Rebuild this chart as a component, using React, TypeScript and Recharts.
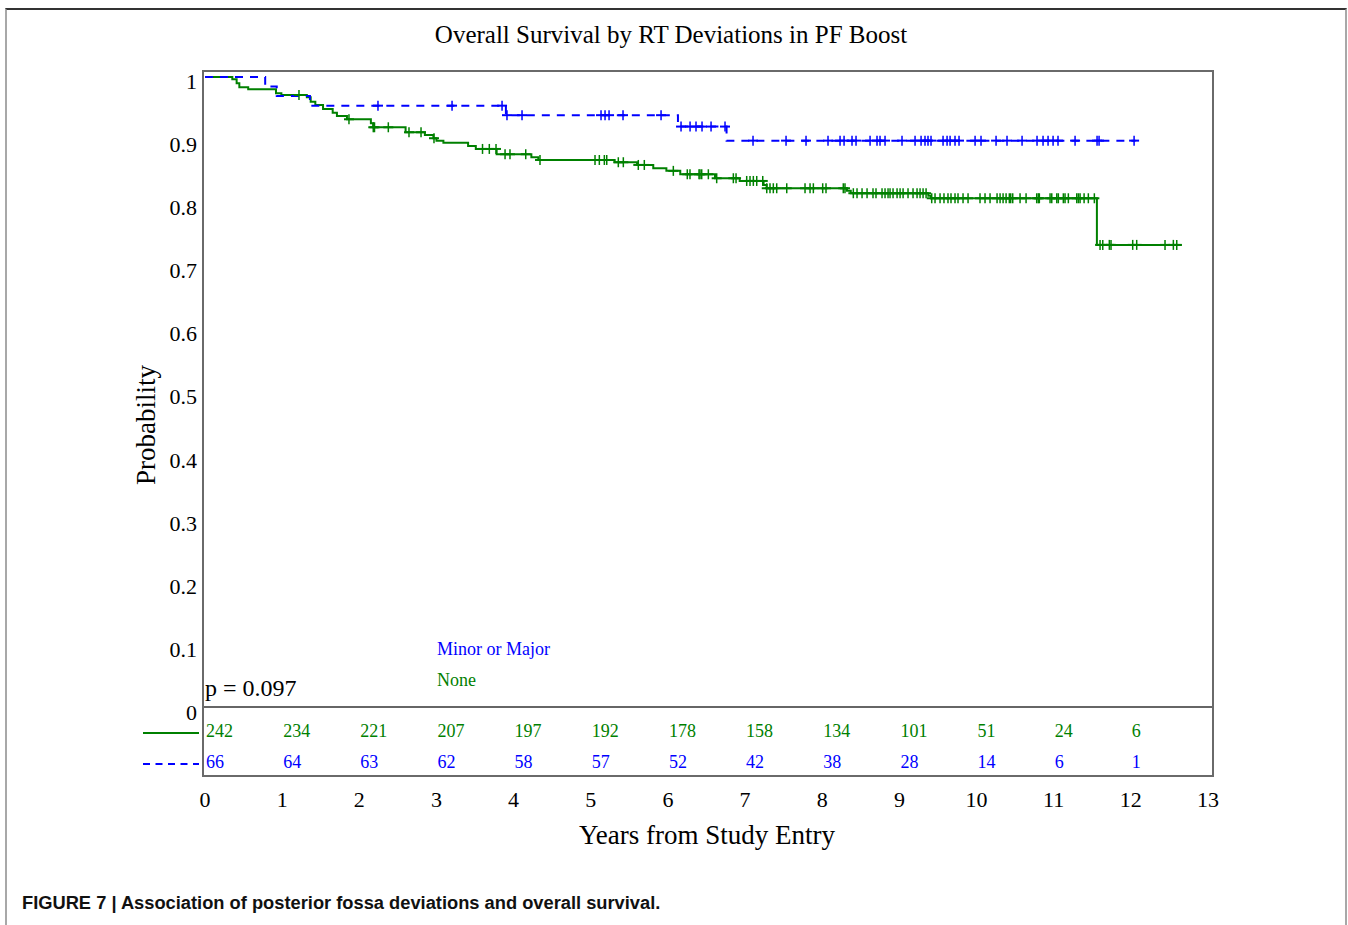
import React from "react";
import { ComposedChart, Line, Scatter, XAxis, YAxis, ReferenceLine } from "recharts";

const SERIF = "'Liberation Serif', 'Times New Roman', serif";
const GREEN = "#008000";
const BLUE = "#0000ff";

const xTicks = [0, 1, 2, 3, 4, 5, 6, 7, 8, 9, 10, 11, 12, 13];
const yTicks = [0, 0.1, 0.2, 0.3, 0.4, 0.5, 0.6, 0.7, 0.8, 0.9, 1];
const yTickLabels = ["0", "0.1", "0.2", "0.3", "0.4", "0.5", "0.6", "0.7", "0.8", "0.9", "1"];

const riskYears = [0, 1, 2, 3, 4, 5, 6, 7, 8, 9, 10, 11, 12];
const riskNone = [242, 234, 221, 207, 197, 192, 178, 158, 134, 101, 51, 24, 6];
const riskMinorMajor = [66, 64, 63, 62, 58, 57, 52, 42, 38, 28, 14, 6, 1];

// Kaplan-Meier step points, group "None"
const noneTimes = [0, 0.354, 0.41, 0.445, 0.56, 0.92, 0.99, 1.32, 1.37, 1.43, 1.53, 1.655, 1.71, 1.84, 2.15, 2.18, 2.6, 2.85, 2.96, 3.0, 3.09, 3.41, 3.51, 3.78, 4.23, 4.32, 5.31, 5.6, 5.81, 5.98, 6.16, 6.61, 6.93, 7.24, 7.28, 8.32, 8.37, 9.375, 9.41, 11.56, 12.66];
const noneSurv = [1, 0.9963, 0.99, 0.9837, 0.9805, 0.9741, 0.9714, 0.9678, 0.9608, 0.9556, 0.9493, 0.9434, 0.9381, 0.9329, 0.9266, 0.9202, 0.9123, 0.908, 0.9028, 0.8989, 0.8958, 0.8905, 0.8858, 0.8774, 0.8726, 0.8683, 0.8647, 0.8604, 0.8552, 0.851, 0.8456, 0.8393, 0.835, 0.8287, 0.8234, 0.8195, 0.8155, 0.8117, 0.8075, 0.7335, 0.7335];

// Kaplan-Meier step points, group "Minor or Major"
const minorMajorTimes = [0, 0.78, 0.93, 1.36, 3.9, 6.13, 6.76, 12.06];
const minorMajorSurv = [1, 0.9848, 0.9697, 0.9545, 0.9394, 0.9213, 0.899, 0.899];

// censoring times
const noneCensor = [1.218, 1.866, 2.181, 2.197, 2.376, 2.644, 2.8, 2.968, 3.597, 3.685, 3.772, 3.889, 3.953, 4.157, 4.342, 5.055, 5.111, 5.176, 5.207, 5.357, 5.422, 5.616, 5.694, 6.07, 6.251, 6.286, 6.403, 6.416, 6.438, 6.524, 6.632, 6.848, 6.883, 7.021, 7.064, 7.107, 7.151, 7.229, 7.281, 7.323, 7.366, 7.41, 7.54, 7.777, 7.842, 7.885, 8.006, 8.049, 8.273, 8.295, 8.403, 8.451, 8.516, 8.581, 8.658, 8.697, 8.775, 8.814, 8.853, 8.879, 8.918, 8.97, 9.009, 9.048, 9.112, 9.177, 9.229, 9.268, 9.307, 9.346, 9.419, 9.462, 9.527, 9.578, 9.63, 9.669, 9.721, 9.76, 9.825, 9.89, 10.045, 10.11, 10.175, 10.266, 10.305, 10.344, 10.383, 10.425, 10.443, 10.469, 10.564, 10.642, 10.78, 10.801, 10.814, 10.953, 10.975, 11.04, 11.06, 11.125, 11.147, 11.19, 11.299, 11.32, 11.342, 11.394, 11.449, 11.527, 11.601, 11.636, 11.721, 11.743, 12.024, 12.076, 12.443, 12.551, 12.595];
const minorMajorCensor = [2.242, 3.202, 3.85, 3.914, 4.109, 5.133, 5.185, 5.237, 5.418, 5.911, 6.17, 6.287, 6.364, 6.442, 6.559, 6.74, 7.103, 7.531, 7.79, 8.075, 8.231, 8.283, 8.386, 8.438, 8.62, 8.71, 8.749, 8.814, 9.034, 9.203, 9.281, 9.332, 9.371, 9.41, 9.566, 9.618, 9.657, 9.721, 9.773, 9.981, 10.058, 10.253, 10.395, 10.59, 10.784, 10.862, 10.927, 10.992, 11.056, 11.277, 11.562, 11.588, 12.042];

// vertical placement of the two at-risk rows (in axis units below 0)
const RISK_ROW_NONE = -0.047;
const RISK_ROW_MM = -0.0963;

const toCurve = (ts: number[], ss: number[]) => ts.map((t, i) => ({ t, s: ss[i] }));
const levelAt = (ts: number[], ss: number[], t: number) => {
  let v = ss[0];
  for (let i = 0; i < ts.length; i++) if (ts[i] <= t) v = ss[i];
  return v;
};
const toCensor = (cs: number[], ts: number[], ss: number[]) => cs.map((t) => ({ t, s: levelAt(ts, ss, t) }));

const noneCurve = toCurve(noneTimes, noneSurv);
const mmCurve = toCurve(minorMajorTimes, minorMajorSurv);
const noneCensorPts = toCensor(noneCensor, noneTimes, noneSurv);
const mmCensorPts = toCensor(minorMajorCensor, minorMajorTimes, minorMajorSurv);
const riskNonePts = riskYears.map((t, i) => ({ t, s: RISK_ROW_NONE, n: riskNone[i] }));
const riskMMPts = riskYears.map((t, i) => ({ t, s: RISK_ROW_MM, n: riskMinorMajor[i] }));

const censorShape = (color: string) => (props: any) => {
  const { cx, cy } = props;
  return (
    <g>
      <line x1={cx} x2={cx} y1={cy - 5} y2={cy + 5} stroke={color} strokeWidth={1.5} />
      <line x1={cx - 5} x2={cx + 5} y1={cy} y2={cy} stroke={color} strokeWidth={2} />
    </g>
  );
};
const riskShape = (color: string) => (props: any) => {
  const { cx, cy, payload } = props;
  return (
    <text x={cx + 1} y={cy} fill={color} fontSize={18} fontFamily={SERIF} textAnchor="start">
      {payload.n}
    </text>
  );
};

const YTick = (props: any) => {
  const { x, y, payload } = props;
  const idx = yTicks.findIndex((v) => Math.abs(v - payload.value) < 1e-9);
  return (
    <text x={x} y={y} dy={12.5} textAnchor="end" fontSize={22} fontFamily={SERIF} fill="#000">
      {idx >= 0 ? yTickLabels[idx] : String(payload.value)}
    </text>
  );
};
const XTick = (props: any) => {
  const { x, y, payload } = props;
  return (
    <text x={x} y={y} dy={23} textAnchor="middle" fontSize={22} fontFamily={SERIF} fill="#000">
      {String(payload.value)}
    </text>
  );
};

export default function App() {
  return (
    <div style={{ position: "absolute", left: 0, top: 0, width: 1348, height: 925, background: "#fff", overflow: "hidden" }}>
      <div
        style={{
          position: "absolute",
          left: 5,
          top: 8,
          width: 1342,
          height: 1000,
          boxSizing: "border-box",
          borderLeft: "2px solid #a8a8a8",
          borderRight: "2px solid #a8a8a8",
          borderTop: "2px solid #333",
        }}
      />
      <div style={{ position: "absolute", left: 0, top: 0 }}>
        <ComposedChart width={1348} height={925} margin={{ top: 71, right: 135, bottom: 109, left: 143 }}>
          <XAxis
            dataKey="t"
            type="number"
            domain={[0, 13]}
            ticks={xTicks}
            padding={{ left: 2, right: 5 }}
            axisLine={false}
            tickLine={false}
            tickSize={0}
            tickMargin={8}
            height={40}
            tick={<XTick />}
            allowDataOverflow
          />
          <YAxis
            dataKey="s"
            type="number"
            domain={[-0.10952, 1.00952]}
            ticks={yTicks}
            axisLine={false}
            tickLine={false}
            tickSize={0}
            tickMargin={6}
            width={60}
            tick={<YTick />}
            allowDataOverflow
          />
          <ReferenceLine y={0} stroke="#333" strokeWidth={1.5} />
          <Line data={noneCurve} dataKey="s" type="stepAfter" stroke={GREEN} strokeWidth={2} dot={false} activeDot={false} isAnimationActive={false} />
          <Line data={mmCurve} dataKey="s" type="stepAfter" stroke={BLUE} strokeWidth={2} strokeDasharray="8 7" dot={false} activeDot={false} isAnimationActive={false} />
          <Scatter data={noneCensorPts} dataKey="s" shape={censorShape(GREEN)} isAnimationActive={false} />
          <Scatter data={mmCensorPts} dataKey="s" shape={censorShape(BLUE)} isAnimationActive={false} />
          <Scatter data={riskNonePts} dataKey="s" shape={riskShape(GREEN)} isAnimationActive={false} />
          <Scatter data={riskMMPts} dataKey="s" shape={riskShape(BLUE)} isAnimationActive={false} />
        </ComposedChart>
      </div>
      <div
        style={{
          position: "absolute",
          left: 202,
          top: 70,
          width: 1012,
          height: 707,
          boxSizing: "border-box",
          border: "2px solid #6a6a6a",
          pointerEvents: "none",
        }}
      />
      <svg width={1348} height={925} style={{ position: "absolute", left: 0, top: 0, pointerEvents: "none" }}>
        <text x={671} y={43} textAnchor="middle" fontSize={25} fontFamily={SERIF} fill="#000">
          Overall Survival by RT Deviations in PF Boost
        </text>
        <text x={155} y={425} textAnchor="middle" fontSize={27} fontFamily={SERIF} fill="#000" transform="rotate(-90 155 425)">
          Probability
        </text>
        <text x={707} y={844} textAnchor="middle" fontSize={27} fontFamily={SERIF} fill="#000">
          Years from Study Entry
        </text>
        <text x={437} y={655} fontSize={18} fontFamily={SERIF} fill={BLUE}>
          Minor or Major
        </text>
        <text x={437} y={686} fontSize={18} fontFamily={SERIF} fill={GREEN}>
          None
        </text>
        <text x={205} y={696} fontSize={24} fontFamily={SERIF} fill="#000">
          p = 0.097
        </text>
        <line x1={143} x2={199} y1={733} y2={733} stroke={GREEN} strokeWidth={2} />
        <line x1={143} x2={199} y1={764} y2={764} stroke={BLUE} strokeWidth={2} strokeDasharray="7 5.5" />
        <text x={22} y={909} fontSize={18.3} fontWeight="bold" fontFamily="'Liberation Sans', Arial, sans-serif" fill="#111">
          FIGURE 7 | Association of posterior fossa deviations and overall survival.
        </text>
      </svg>
    </div>
  );
}
